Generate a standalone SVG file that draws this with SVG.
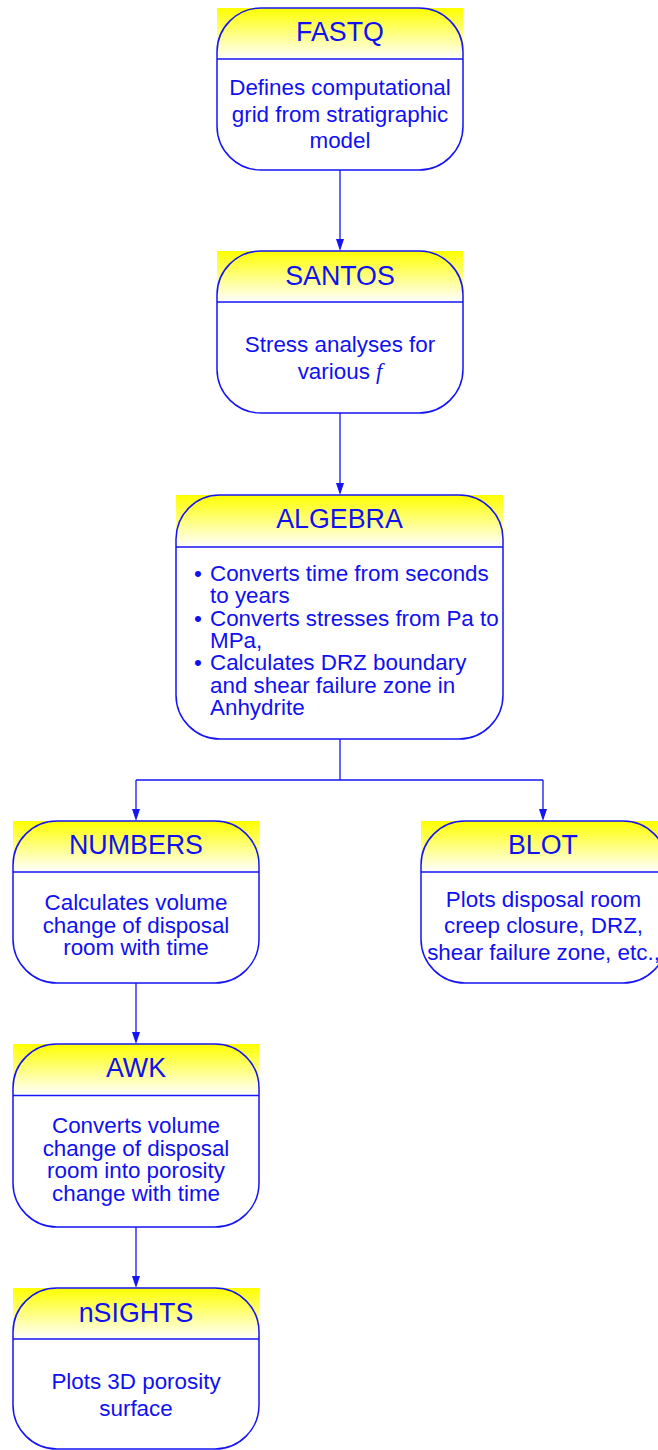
<svg xmlns="http://www.w3.org/2000/svg" width="658" height="1450" viewBox="0 0 658 1450">
<style>
.hdr{fill:url(#yg)}
.box{fill:none;stroke:#1414f5;stroke-width:1.5}
.sep{stroke:#1414f5;stroke-width:1.5}
.ttl{font-family:"Liberation Sans",Arial,sans-serif;font-size:26.8px;fill:#1010f0;text-anchor:middle}
.bd{font-family:"Liberation Sans",Arial,sans-serif;font-size:22.4px;fill:#1010f0;text-anchor:middle}
.bl{font-family:"Liberation Sans",Arial,sans-serif;font-size:22.4px;fill:#1010f0}
.con{fill:none;stroke:#1414f5;stroke-width:1.3}
.ah{fill:#1414f5}
</style>
<defs>
<linearGradient id="yg" x1="0" y1="0" x2="0" y2="1">
<stop offset="0" stop-color="#ffff00"/>
<stop offset="1" stop-color="#ffffff"/>
</linearGradient>
</defs>
<rect width="658" height="1450" fill="#ffffff"/>

<g id="connectors">
<line class="con" x1="340" y1="170" x2="340" y2="239"/>
<line class="con" x1="340" y1="413" x2="340" y2="483"/>
<path class="con" d="M340,739 L340,780 M136,780 L543,780"/>
<line class="con" x1="136" y1="780" x2="136" y2="809"/>
<line class="con" x1="543" y1="780" x2="543" y2="809"/>
<line class="con" x1="136" y1="983" x2="136" y2="1032"/>
<line class="con" x1="136" y1="1227" x2="136" y2="1276"/>
<path class="ah" d="M336,239 L344,239 L340,251 Z"/>
<path class="ah" d="M336,483 L344,483 L340,495 Z"/>
<path class="ah" d="M132,809 L140,809 L136,821 Z"/>
<path class="ah" d="M539,809 L547,809 L543,821 Z"/>
<path class="ah" d="M132,1032 L140,1032 L136,1044 Z"/>
<path class="ah" d="M132,1276 L140,1276 L136,1288 Z"/>
</g>

<g id="FASTQ">
<rect class="hdr" x="217" y="8" width="246" height="51"/>
<rect class="box" x="217" y="8" width="246" height="162" rx="44" ry="44"/>
<line class="sep" x1="217" y1="59" x2="463" y2="59"/>
<text class="ttl" x="340" y="41">FASTQ</text>
<text class="bd" x="340" y="95">Defines computational</text>
<text class="bd" x="340" y="121.5">grid from stratigraphic</text>
<text class="bd" x="340" y="148">model</text>
</g>

<g id="SANTOS">
<rect class="hdr" x="217" y="251" width="246" height="51"/>
<rect class="box" x="217" y="251" width="246" height="162" rx="44" ry="44"/>
<line class="sep" x1="217" y1="302" x2="463" y2="302"/>
<text class="ttl" x="340" y="284.5">SANTOS</text>
<text class="bd" x="340" y="352">Stress analyses for</text>
<text class="bd" x="340" y="378.5">various <tspan font-family="'Liberation Serif',serif" font-style="italic">f</tspan></text>
</g>

<g id="ALGEBRA">
<rect class="hdr" x="176" y="495" width="327" height="52"/>
<rect class="box" x="176" y="495" width="327" height="244" rx="44" ry="44"/>
<line class="sep" x1="176" y1="547" x2="503" y2="547"/>
<text class="ttl" x="339.5" y="528">ALGEBRA</text>
<text class="bl" x="194" y="581">•</text>
<text class="bl" x="210" y="581">Converts time from seconds</text>
<text class="bl" x="210" y="603.3">to years</text>
<text class="bl" x="194" y="625.6">•</text>
<text class="bl" x="210" y="625.6">Converts stresses from Pa to</text>
<text class="bl" x="210" y="648">MPa,</text>
<text class="bl" x="194" y="670.3">•</text>
<text class="bl" x="210" y="670.3">Calculates DRZ boundary</text>
<text class="bl" x="210" y="692.6">and shear failure zone in</text>
<text class="bl" x="210" y="715">Anhydrite</text>
</g>

<g id="NUMBERS">
<rect class="hdr" x="13" y="821" width="246" height="51"/>
<rect class="box" x="13" y="821" width="246" height="162" rx="44" ry="44"/>
<line class="sep" x1="13" y1="872" x2="259" y2="872"/>
<text class="ttl" x="136" y="854">NUMBERS</text>
<text class="bd" x="136" y="910">Calculates volume</text>
<text class="bd" x="136" y="932.5">change of disposal</text>
<text class="bd" x="136" y="955">room with time</text>
</g>

<g id="BLOT">
<rect class="hdr" x="421" y="821" width="246" height="51"/>
<rect class="box" x="421" y="821" width="246" height="162" rx="44" ry="44"/>
<line class="sep" x1="421" y1="872" x2="667" y2="872"/>
<text class="ttl" x="543" y="854">BLOT</text>
<text class="bd" x="543.5" y="906.7">Plots disposal room</text>
<text class="bd" x="543.5" y="933.3">creep closure, DRZ,</text>
<text class="bd" x="543.5" y="960">shear failure zone, etc.,</text>
</g>

<g id="AWK">
<rect class="hdr" x="13" y="1044" width="246" height="51"/>
<rect class="box" x="13" y="1044" width="246" height="183" rx="44" ry="44"/>
<line class="sep" x1="13" y1="1095.5" x2="259" y2="1095.5"/>
<text class="ttl" x="136" y="1077">AWK</text>
<text class="bd" x="136" y="1132.7">Converts volume</text>
<text class="bd" x="136" y="1155.5">change of disposal</text>
<text class="bd" x="136" y="1178.2">room into porosity</text>
<text class="bd" x="136" y="1201">change with time</text>
</g>

<g id="nSIGHTS">
<rect class="hdr" x="13" y="1288" width="246" height="51"/>
<rect class="box" x="13" y="1288" width="246" height="161" rx="44" ry="44"/>
<line class="sep" x1="13" y1="1339" x2="259" y2="1339"/>
<text class="ttl" x="136" y="1321.5">nSIGHTS</text>
<text class="bd" x="136" y="1389.3">Plots 3D porosity</text>
<text class="bd" x="136" y="1416">surface</text>
</g>
</svg>
